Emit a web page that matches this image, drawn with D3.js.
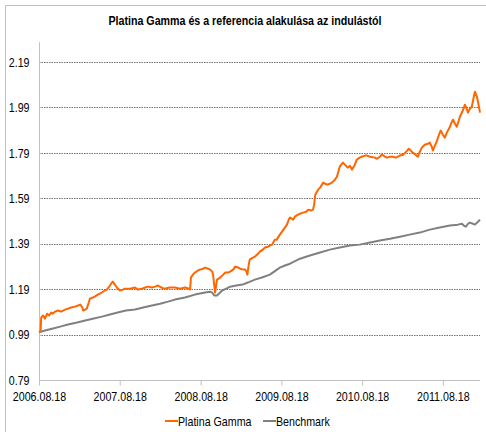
<!DOCTYPE html>
<html>
<head>
<meta charset="utf-8">
<script src="https://cdn.jsdelivr.net/npm/d3@7"></script>
<style>
  body { margin: 0; background: #fff; }
  text { font-family: "Liberation Sans Narrow", "Arial Narrow", "Liberation Sans", Arial, sans-serif; fill: #000; }
</style>
</head>
<body>
<div id="wrapper"></div>
<script>
// Data
const seriesNames = ["Platina Gamma", "Benchmark"];

const gammaDates = [
  "2006-08-18","2006-08-25","2006-08-28","2006-09-05","2006-09-14","2006-09-24","2006-10-03","2006-10-12",
  "2006-10-20","2006-10-29","2006-11-12","2006-11-26","2006-12-14","2006-12-27","2007-01-10","2007-01-28",
  "2007-02-11","2007-02-21","2007-03-02","2007-03-06","2007-03-15","2007-03-22","2007-03-31","2007-04-05",
  "2007-04-18","2007-04-27","2007-05-11","2007-05-29","2007-06-11","2007-06-21","2007-07-05","2007-07-14",
  "2007-07-18","2007-07-27","2007-08-05","2007-08-19","2007-09-01","2007-09-11","2007-10-04","2007-10-26",
  "2007-11-08","2007-11-27","2007-12-11","2007-12-24","2008-01-11","2008-01-25","2008-02-07","2008-02-22",
  "2008-03-06","2008-04-01","2008-04-24","2008-05-16","2008-06-08","2008-06-27","2008-07-01","2008-07-05",
  "2008-07-14","2008-07-23","2008-08-06","2008-08-15","2008-08-29","2008-09-07","2008-09-21","2008-09-30",
  "2008-10-09","2008-10-13","2008-10-18","2008-10-22","2008-10-27","2008-10-31","2008-11-14","2008-11-28",
  "2008-12-07","2008-12-20","2008-12-29","2009-01-12","2009-01-21","2009-02-04","2009-02-13","2009-02-27",
  "2009-03-08","2009-03-13","2009-03-17","2009-03-24","2009-03-28","2009-04-11","2009-04-20","2009-05-04",
  "2009-05-13","2009-05-26","2009-06-04","2009-06-18","2009-06-27","2009-07-07","2009-07-19","2009-07-28",
  "2009-08-11","2009-08-21","2009-09-03","2009-09-12","2009-09-22","2009-09-26","2009-10-10","2009-10-18",
  "2009-11-01","2009-11-10","2009-11-24","2009-12-08","2009-12-17","2009-12-30","2010-01-08","2010-01-13",
  "2010-01-18","2010-01-31","2010-02-09","2010-02-23","2010-03-04","2010-03-13","2010-03-25","2010-04-03",
  "2010-04-17","2010-04-26","2010-05-05","2010-05-09","2010-05-23","2010-06-01","2010-06-10","2010-06-14",
  "2010-06-24","2010-07-03","2010-07-16","2010-07-25","2010-08-07","2010-08-16","2010-08-31","2010-09-09",
  "2010-09-23","2010-10-15","2010-10-24","2010-11-06","2010-11-15","2010-11-30","2010-12-09","2010-12-22",
  "2011-01-04","2011-01-18","2011-02-05","2011-02-20","2011-03-01","2011-03-10","2011-03-17","2011-03-26",
  "2011-04-04","2011-04-17","2011-04-27","2011-05-06","2011-05-15","2011-05-28","2011-06-11","2011-06-20",
  "2011-06-29","2011-07-04","2011-07-13","2011-07-21","2011-07-30","2011-08-08","2011-08-18","2011-08-27",
  "2011-09-05","2011-09-19","2011-09-28","2011-10-03","2011-10-12","2011-10-20","2011-10-29","2011-11-03",
  "2011-11-18","2011-11-26","2011-12-05","2011-12-10","2011-12-18","2011-12-27","2012-01-05","2012-01-10",
  "2012-01-14","2012-01-19","2012-01-24","2012-01-28","2012-02-02"
];
const gammaValues = [
  1.000,1.005,1.065,1.074,1.060,1.082,1.074,1.087,
  1.082,1.091,1.096,1.091,1.100,1.104,1.109,1.113,
  1.118,1.122,1.109,1.096,1.100,1.104,1.131,1.148,
  1.153,1.157,1.166,1.175,1.184,1.188,1.206,1.219,
  1.223,1.210,1.197,1.184,1.188,1.192,1.192,1.197,
  1.188,1.192,1.197,1.201,1.197,1.201,1.206,1.197,
  1.192,1.197,1.197,1.192,1.197,1.192,1.188,1.241,
  1.254,1.263,1.272,1.276,1.280,1.285,1.280,1.276,
  1.267,1.254,1.210,1.175,1.206,1.232,1.241,1.254,
  1.263,1.263,1.267,1.276,1.289,1.285,1.280,1.276,
  1.276,1.267,1.254,1.302,1.320,1.329,1.333,1.346,
  1.355,1.364,1.373,1.377,1.382,1.386,1.408,1.408,
  1.430,1.443,1.461,1.474,1.500,1.505,1.496,1.509,
  1.518,1.522,1.527,1.531,1.540,1.536,1.540,1.562,
  1.606,1.628,1.637,1.659,1.654,1.650,1.654,1.659,
  1.672,1.685,1.716,1.729,1.747,1.738,1.729,1.725,
  1.733,1.716,1.738,1.760,1.769,1.773,1.778,1.778,
  1.773,1.769,1.764,1.773,1.782,1.773,1.769,1.773,
  1.773,1.769,1.778,1.782,1.791,1.800,1.808,1.800,
  1.791,1.782,1.773,1.795,1.813,1.826,1.830,1.835,
  1.817,1.800,1.822,1.839,1.866,1.888,1.870,1.857,
  1.879,1.905,1.927,1.936,1.918,1.905,1.932,1.949,
  1.980,2.002,1.980,1.967,1.984,1.993,2.037,2.059,
  2.050,2.037,2.015,1.993,1.967
];

const benchDates = [
  "2006-08-18","2006-09-14","2006-10-16","2006-11-22","2006-12-27","2007-02-06","2007-03-15","2007-04-18",
  "2007-05-29","2007-07-05","2007-08-09","2007-09-15","2007-10-26","2007-12-02","2008-01-11","2008-02-17",
  "2008-03-23","2008-04-24","2008-06-08","2008-07-23","2008-09-07","2008-09-30","2008-10-09","2008-10-18",
  "2008-10-31","2008-11-14","2008-11-23","2008-12-12","2008-12-29","2009-01-26","2009-02-23","2009-03-19",
  "2009-04-20","2009-05-22","2009-06-27","2009-08-11","2009-09-03","2009-09-26","2009-11-10","2009-12-25",
  "2010-02-09","2010-03-25","2010-05-09","2010-06-24","2010-08-07","2010-09-23","2010-11-06","2010-12-22",
  "2011-02-05","2011-03-21","2011-05-06","2011-06-20","2011-08-04","2011-09-19","2011-10-25","2011-11-12",
  "2011-11-21","2011-11-30","2011-12-10","2011-12-18","2012-01-01","2012-01-10","2012-01-24","2012-02-02"
];
const benchValues = [
  1.000,1.008,1.016,1.025,1.034,1.043,1.052,1.060,
  1.069,1.078,1.087,1.096,1.100,1.109,1.118,1.126,
  1.135,1.144,1.153,1.166,1.175,1.179,1.175,1.162,
  1.162,1.175,1.184,1.192,1.201,1.206,1.210,1.219,
  1.232,1.241,1.254,1.285,1.294,1.302,1.324,1.338,
  1.351,1.364,1.373,1.382,1.386,1.395,1.404,1.412,
  1.421,1.430,1.439,1.452,1.461,1.470,1.474,1.478,
  1.470,1.465,1.478,1.483,1.478,1.474,1.487,1.496
];

const yTicks = [0.79, 0.99, 1.19, 1.39, 1.59, 1.79, 1.99, 2.19];
const xTicks = ["2006-08-18","2007-08-18","2008-08-18","2009-08-18","2010-08-18","2011-08-18"];
const xDomain = ["2006-08-18", "2012-02-02"];

const colors = ["#ff6600", "#808080"];

const parseDate = d3.timeParse("%Y-%m-%d");
const formatDate = d3.timeFormat("%Y.%m.%d");

const width = 486;
const height = 432;
const plot = { left: 39, right: 480, top: 42, bottom: 380 };

// the reference uses a narrow face; squeeze the regular one to match
const narrowFactor = 0.82;
function narrow(selection) {
  selection.each(function () {
    const len = this.getComputedTextLength();
    d3.select(this)
      .attr("textLength", len * narrowFactor)
      .attr("lengthAdjust", "spacingAndGlyphs");
  });
}

const svg = d3.select("#wrapper")
  .append("svg")
  .attr("width", width)
  .attr("height", height);

// chart area border
svg.append("rect")
  .attr("x", 5.5)
  .attr("y", 5.5)
  .attr("width", width + 10)
  .attr("height", height + 10)
  .attr("fill", "none")
  .attr("stroke", "#c0c0c0")
  .attr("stroke-width", 1);

const xScale = d3.scaleTime()
  .domain(xDomain.map(parseDate))
  .range([plot.left, plot.right]);

const yScale = d3.scaleLinear()
  .domain([yTicks[0], yTicks[yTicks.length - 1]])
  .range([plot.bottom, 62]);

// title
svg.append("text")
  .attr("x", 245)
  .attr("y", 25)
  .attr("text-anchor", "middle")
  .style("font-weight", "bold")
  .style("font-size", "13px")
  .text("Platina Gamma és a referencia alakulása az indulástól")
  .call(narrow);

// gridlines
svg.append("g")
  .selectAll("line")
  .data(yTicks.slice(1))
  .join("line")
  .attr("x1", plot.left)
  .attr("x2", plot.right)
  .attr("y1", (d) => Math.round(yScale(d)) + 0.5)
  .attr("y2", (d) => Math.round(yScale(d)) + 0.5)
  .attr("stroke", "#707070")
  .attr("stroke-width", 1)
  .attr("stroke-dasharray", "1.5,1");

// y axis
const yAxis = svg.append("g")
  .attr("transform", `translate(${plot.left + 0.5},0)`)
  .call(d3.axisLeft(yScale).tickValues(yTicks).tickFormat(d3.format(".2f")).tickSize(0).tickPadding(10));
yAxis.select(".domain").remove();
yAxis.selectAll("text").style("font-size", "13px").attr("fill", "#000").call(narrow);
svg.append("line")
  .attr("x1", plot.left + 0.5).attr("x2", plot.left + 0.5)
  .attr("y1", plot.top).attr("y2", plot.bottom + 5)
  .attr("stroke", "#c0c0c0");

// x axis
const xAxis = svg.append("g")
  .attr("transform", `translate(0,${plot.bottom + 0.5})`)
  .call(d3.axisBottom(xScale)
    .tickValues(xTicks.map(parseDate))
    .tickFormat(formatDate)
    .tickSizeInner(5)
    .tickSizeOuter(0)
    .tickPadding(6));
xAxis.select(".domain").attr("stroke", "#c0c0c0").attr("d", `M${plot.left},0H${plot.right}`);
xAxis.selectAll(".tick line").attr("stroke", "#c0c0c0");
xAxis.selectAll("text").style("font-size", "13px").attr("fill", "#000").call(narrow);

// lines
const lineGen = d3.line()
  .x((d) => xScale(d.date))
  .y((d) => yScale(d.value));

const series = [
  { name: seriesNames[1], dates: benchDates, values: benchValues, color: colors[1] },
  { name: seriesNames[0], dates: gammaDates, values: gammaValues, color: colors[0] },
];

svg.append("g")
  .selectAll("path")
  .data(series)
  .join("path")
  .attr("fill", "none")
  .attr("stroke", (d) => d.color)
  .attr("stroke-width", 2)
  .attr("stroke-linejoin", "round")
  .attr("d", (d) => lineGen(d.dates.map((t, i) => ({ date: parseDate(t), value: d.values[i] }))));

// legend
const legendX = [165, 263];
const legend = svg.append("g")
  .selectAll("g")
  .data(seriesNames)
  .join("g")
  .attr("transform", (d, i) => `translate(${legendX[i]},421)`);
legend.append("line")
  .attr("x1", 0).attr("x2", 13)
  .attr("stroke", (d, i) => colors[i])
  .attr("stroke-width", 2);
legend.append("text")
  .attr("x", 13)
  .attr("y", 4.5)
  .style("font-size", "13px")
  .text((d) => d)
  .call(narrow);
</script>
</body>
</html>
